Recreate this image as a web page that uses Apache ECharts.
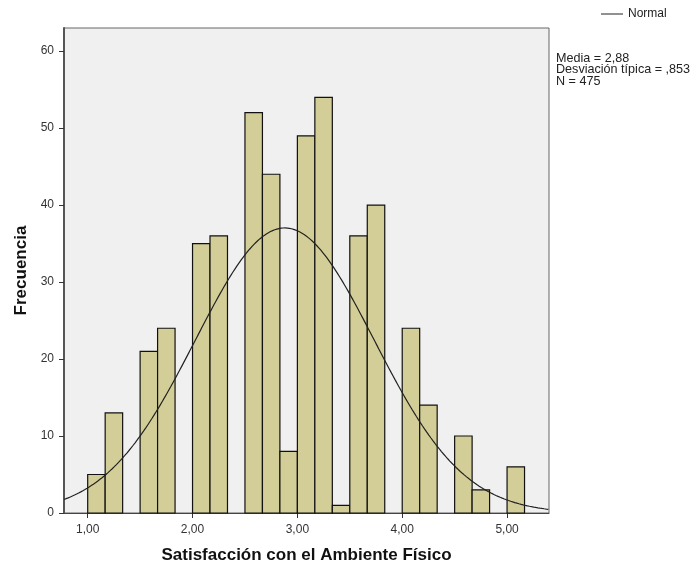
<!DOCTYPE html>
<html>
<head>
<meta charset="utf-8">
<title>Satisfacción con el Ambiente Físico</title>
<script src="https://cdn.jsdelivr.net/npm/echarts@6/dist/echarts.min.js"></script>
<style>
  html, body { margin: 0; padding: 0; background: #ffffff; }
  #chart { width: 694px; height: 570px; }
</style>
</head>
<body>
<div id="chart"></div>
<script>
// Histogram bins: lower edge of each bin (bin width = 1/6) and its frequency
const binWidth = 1 / 6;
const binStarts = [1, 7/6, 3/2, 5/3, 2, 13/6, 5/2, 8/3, 17/6, 3, 19/6, 10/3, 7/2, 11/3, 4, 25/6, 9/2, 14/3, 5];
const frequencies = [5, 13, 21, 24, 35, 36, 52, 44, 8, 49, 54, 1, 36, 40, 24, 14, 10, 3, 6];

// Summary statistics shown beside the plot
const meanValue = 2.88;
const sdValue = 0.853;
const nValue = 475;

// Axis ticks
const xTicks = [1, 2, 3, 4, 5];
const yTicks = [0, 10, 20, 30, 40, 50, 60];

const xMin = 0.774, xMax = 5.40;
const yMin = 0, yMax = 63;

const fmtComma = (v, d) => v.toFixed(d).replace('.', ',');
const FONT = "'Liberation Sans', Arial, sans-serif";

// Bars as [start, end, count]
const barData = binStarts.map((s, i) => [s, s + binWidth, frequencies[i]]);

// Fitted normal curve scaled to the histogram (N * bin width * density)
const normalCurve = [];
for (let x = xMin; x <= xMax + 1e-9; x += 0.01) {
  const z = (x - meanValue) / sdValue;
  const dens = Math.exp(-0.5 * z * z) / (sdValue * Math.sqrt(2 * Math.PI));
  normalCurve.push([x, nValue * binWidth * dens]);
}

const chart = echarts.init(document.getElementById('chart'), null, { renderer: 'canvas' });

chart.setOption({
  animation: false,
  backgroundColor: '#ffffff',
  textStyle: { fontFamily: FONT },
  grid: {
    left: 64, right: 145, top: 28, bottom: 57,
    show: true,
    backgroundColor: '#f0f0f0',
    borderColor: '#666666',
    borderWidth: 1
  },
  legend: {
    data: ['Normal'],
    left: 601, top: 8,
    padding: 0,
    icon: 'rect',
    itemWidth: 22, itemHeight: 1,
    textStyle: { fontFamily: FONT, fontSize: 12, color: '#222222' }
  },
  graphic: [{
    type: 'text',
    left: 556, top: 52,
    style: {
      text: 'Media = ' + fmtComma(meanValue, 2) + '\nDesviación típica = ,' + String(sdValue).split('.')[1] + '\nN = ' + nValue,
      font: '12.6px ' + FONT,
      lineHeight: 11.5,
      fill: '#222222'
    }
  }],
  xAxis: {
    type: 'value',
    min: xMin, max: xMax,
    name: 'Satisfacción con el Ambiente Físico',
    nameLocation: 'middle',
    nameGap: 34,
    nameTextStyle: { fontFamily: FONT, fontSize: 17, fontWeight: 'bold', color: '#111111' },
    axisLine: { show: true, onZero: false, lineStyle: { color: '#444444', width: 1 } },
    axisTick: { show: true, customValues: xTicks, length: 5, lineStyle: { color: '#333333' } },
    axisLabel: {
      customValues: xTicks, margin: 11,
      fontSize: 12, color: '#333333', fontFamily: FONT,
      formatter: v => fmtComma(v, 2)
    },
    splitLine: { show: false }
  },
  yAxis: {
    type: 'value',
    min: yMin, max: yMax,
    name: 'Frecuencia',
    nameLocation: 'middle',
    nameGap: 33,
    nameTextStyle: { fontFamily: FONT, fontSize: 17, fontWeight: 'bold', color: '#111111' },
    axisLine: { show: true, lineStyle: { color: '#555555', width: 2 } },
    axisTick: { show: true, customValues: yTicks, length: 5, lineStyle: { color: '#333333' } },
    axisLabel: {
      customValues: yTicks, margin: 10,
      fontSize: 12, color: '#333333', fontFamily: FONT
    },
    splitLine: { show: false }
  },
  series: [
    {
      name: 'Frecuencia',
      type: 'custom',
      data: barData,
      encode: { x: [0, 1], y: 2 },
      renderItem: (params, api) => {
        const p0 = api.coord([api.value(0), api.value(2)]);
        const p1 = api.coord([api.value(1), 0]);
        return {
          type: 'rect',
          shape: { x: p0[0], y: p0[1], width: p1[0] - p0[0], height: p1[1] - p0[1] },
          style: { fill: '#d3ce97', stroke: '#111111', lineWidth: 1.2 }
        };
      },
      z: 2
    },
    {
      name: 'Normal',
      type: 'line',
      data: normalCurve,
      showSymbol: false,
      symbol: 'none',
      smooth: false,
      clip: true,
      itemStyle: { color: '#222222' },
      lineStyle: { color: '#222222', width: 1.2 },
      z: 3
    }
  ]
});
</script>
</body>
</html>
